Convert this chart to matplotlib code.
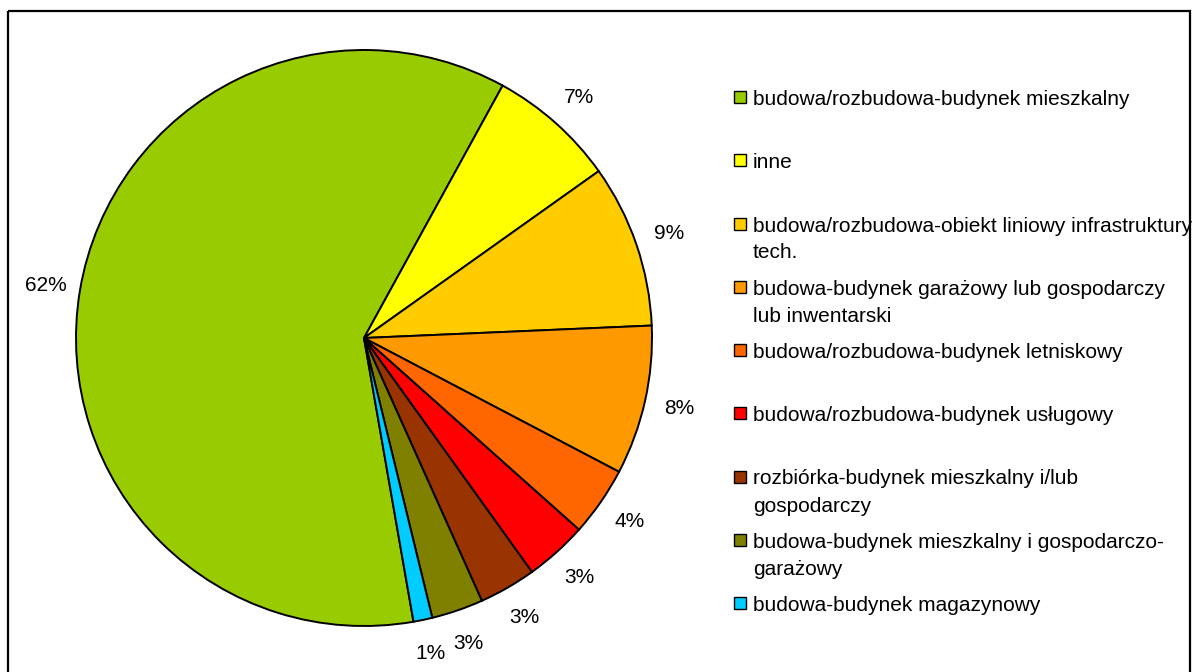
import matplotlib
matplotlib.use("Agg")
import matplotlib.pyplot as plt
from matplotlib.patches import Rectangle

plt.rcParams['font.family'] = ['Liberation Sans', 'DejaVu Sans']

# categories in legend order (clockwise from the big green slice)
categories = [
    "budowa/rozbudowa-budynek mieszkalny",
    "inne",
    "budowa/rozbudowa-obiekt liniowy infrastruktury\ntech.",
    "budowa-budynek garażowy lub gospodarczy\nlub inwentarski",
    "budowa/rozbudowa-budynek letniskowy",
    "budowa/rozbudowa-budynek usługowy",
    "rozbiórka-budynek mieszkalny i/lub\ngospodarczy",
    "budowa-budynek mieszkalny i gospodarczo-\ngarażowy",
    "budowa-budynek magazynowy",
]
# shares
shares = [60.75, 7.17, 9.15, 8.38, 3.9, 3.5, 3.2, 2.9, 1.06]
pct_labels = ["62%", "7%", "9%", "8%", "4%", "3%", "3%", "3%", "1%"]
colors = ["#99CC00", "#FFFF00", "#FFCC00", "#FF9900", "#FF6600",
          "#FF0000", "#993300", "#808000", "#00CCFF"]

W, H = 1198, 672
fig = plt.figure(figsize=(W / 100, H / 100), dpi=100)

# pie: center (364, 338) px, radius 288 px
cx, cy, r = 364, 338, 288
ax = fig.add_axes([(cx - r) / W, (H - cy - r) / H, 2 * r / W, 2 * r / H])
wedges, texts = ax.pie(
    shares, colors=colors, labels=pct_labels, startangle=-80.1,
    counterclock=False, labeldistance=1.12,
    wedgeprops=dict(edgecolor="black", linewidth=1.4),
    textprops=dict(fontsize=15, color="black"),
)
for w in wedges:
    w.set_clip_on(False)
for t in texts:
    t.set_ha("center")
    t.set_va("center")
ax.set_xlim(-1, 1)
ax.set_ylim(-1, 1)
ax.set_aspect("equal")
ax.axis("off")

# overlay in pixel coords for frame and legend
ov = fig.add_axes([0, 0, 1, 1], zorder=-1)
ov.set_xlim(0, W)
ov.set_ylim(H, 0)
ov.axis("off")
ov.add_patch(Rectangle((8, 11), 1182, 700, fill=False, edgecolor="black",
                       linewidth=1.6, clip_on=False))

ov2 = fig.add_axes([0, 0, 1, 1])
ov2.set_xlim(0, W)
ov2.set_ylim(H, 0)
ov2.axis("off")
base0, step, line_h = 105, 63.25, 27
for i, (name, col) in enumerate(zip(categories, colors)):
    b = base0 + i * step
    ov2.add_patch(Rectangle((734, b - 14), 12, 12, facecolor=col,
                            edgecolor="black", linewidth=1.0))
    for j, line in enumerate(name.split("\n")):
        ov2.text(753, b + j * line_h, line, fontsize=15, va="baseline",
                 ha="left", color="black")

fig.savefig("out.png", dpi=100)
